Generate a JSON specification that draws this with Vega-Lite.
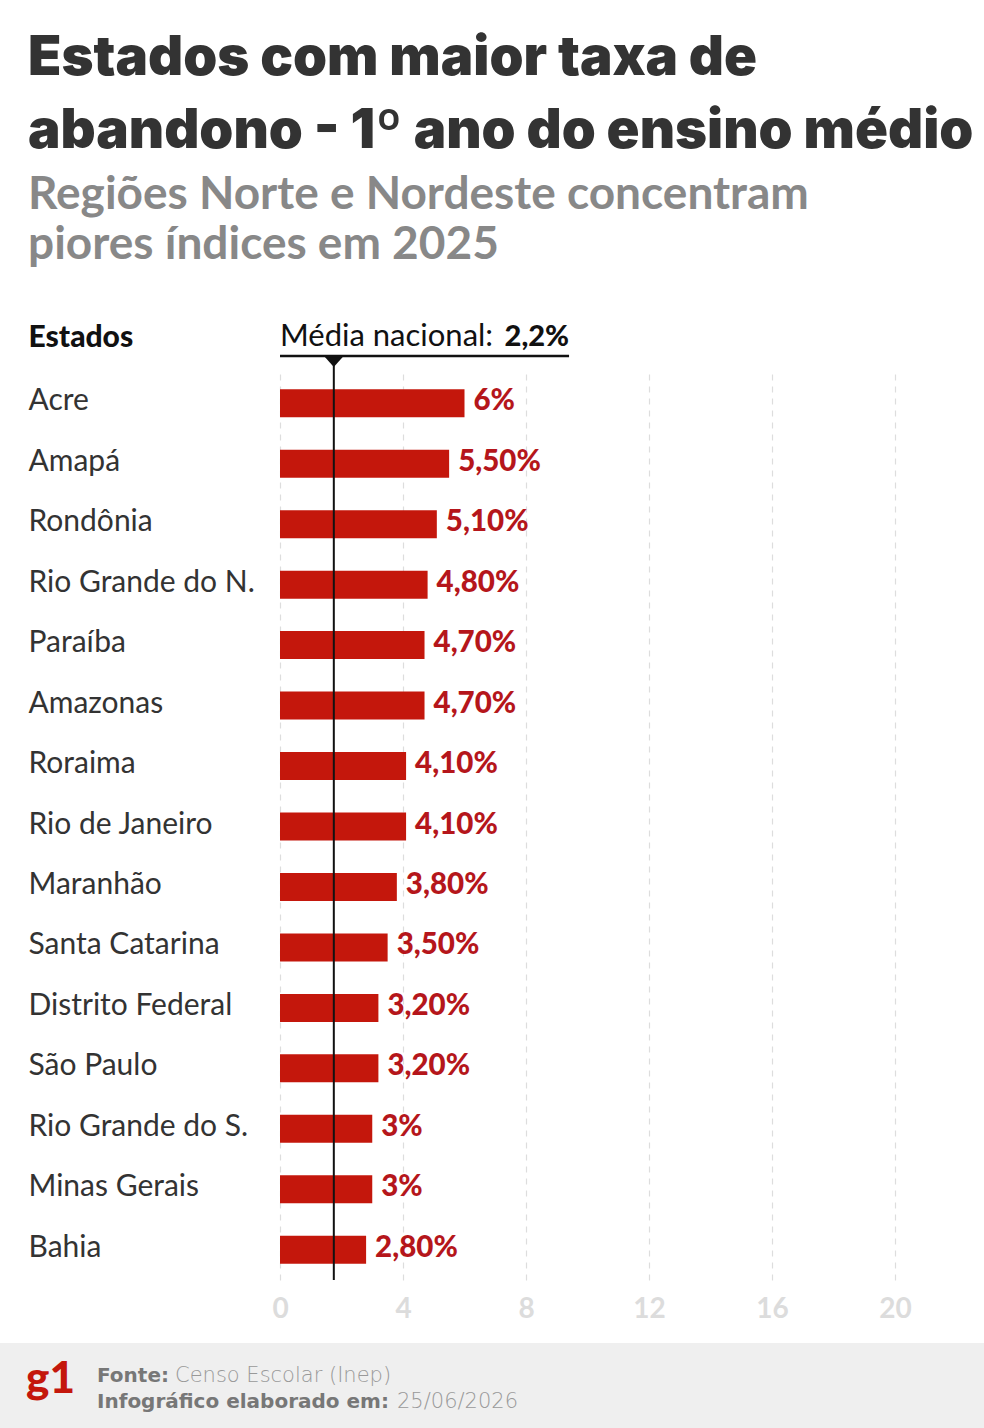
{
  "$schema": "https://vega.github.io/schema/vega-lite/v6.json",
  "width": 615,
  "height": 907,
  "autosize": "none",
  "padding": {"left": 280, "top": 373, "right": 89, "bottom": 148},
  "background": "white",
  "config": {"view": {"stroke": null}, "font": "Lato"},
  "title": {
    "text": ["Estados com maior taxa de", "abandono - 1º ano do ensino médio"],
    "subtitle": ["Regiões Norte e Nordeste concentram", "piores índices em 2025"],
    "anchor": "start",
    "frame": "group",
    "dx": -252,
    "fontSize": 54.5,
    "font": "Inter",
    "fontWeight": 900,
    "color": "#333333",
    "lineHeight": 73,
    "subtitleFont": "Lato",
    "subtitleFontSize": 46,
    "subtitleFontWeight": 700,
    "subtitleColor": "#888888",
    "subtitleLineHeight": 50,
    "subtitlePadding": 14,
    "offset": 52
  },
  "datasets": {
    "estados": [
      {"estado": "Acre", "taxa": 6, "rotulo": "6%"},
      {"estado": "Amapá", "taxa": 5.5, "rotulo": "5,50%"},
      {"estado": "Rondônia", "taxa": 5.1, "rotulo": "5,10%"},
      {"estado": "Rio Grande do N.", "taxa": 4.8, "rotulo": "4,80%"},
      {"estado": "Paraíba", "taxa": 4.7, "rotulo": "4,70%"},
      {"estado": "Amazonas", "taxa": 4.7, "rotulo": "4,70%"},
      {"estado": "Roraima", "taxa": 4.1, "rotulo": "4,10%"},
      {"estado": "Rio de Janeiro", "taxa": 4.1, "rotulo": "4,10%"},
      {"estado": "Maranhão", "taxa": 3.8, "rotulo": "3,80%"},
      {"estado": "Santa Catarina", "taxa": 3.5, "rotulo": "3,50%"},
      {"estado": "Distrito Federal", "taxa": 3.2, "rotulo": "3,20%"},
      {"estado": "São Paulo", "taxa": 3.2, "rotulo": "3,20%"},
      {"estado": "Rio Grande do S.", "taxa": 3, "rotulo": "3%"},
      {"estado": "Minas Gerais", "taxa": 3, "rotulo": "3%"},
      {"estado": "Bahia", "taxa": 2.8, "rotulo": "2,80%"}
    ],
    "media": [{"posicao": 1.75, "rotulo": "2,2%"}],
    "nota": [{"fonte": "Censo Escolar (Inep)", "data": "25/06/2026"}]
  },
  "layer": [
    {
      "data": {"name": "nota"},
      "mark": {"type": "rect", "fill": "#efefef", "clip": false},
      "encoding": {
        "x": {"value": -280},
        "x2": {"value": 704},
        "y": {"value": 970},
        "y2": {"value": 1055}
      }
    },
    {
      "data": {"name": "estados"},
      "mark": {"type": "bar", "color": "#c4170c", "size": 28},
      "encoding": {
        "x": {
          "field": "taxa",
          "type": "quantitative",
          "scale": {"domain": [0, 20], "nice": false, "zero": true},
          "axis": {
            "values": [0, 4, 8, 12, 16, 20],
            "title": null,
            "grid": true,
            "gridDash": [6, 6],
            "gridColor": "#dddddd",
            "gridWidth": 1.2,
            "domain": false,
            "ticks": false,
            "labelFlush": false,
            "labelColor": "#dcdcdc",
            "labelFontSize": 28,
            "labelFontWeight": 700,
            "labelFont": "Lato",
            "labelPadding": 15
          }
        },
        "y": {
          "field": "estado",
          "type": "nominal",
          "sort": null,
          "scale": {"paddingInner": 0, "paddingOuter": 0},
          "axis": {
            "title": "Estados",
            "titleAngle": 0,
            "titleX": -252,
            "titleY": -27,
            "titleAlign": "left",
            "titleBaseline": "alphabetic",
            "titleFontSize": 30,
            "titleFontWeight": 900,
            "titleFont": "Lato",
            "titleColor": "#111111",
            "labelAlign": "left",
            "labelPadding": 252,
            "labelLimit": 300,
            "ticks": false,
            "tickSize": 0,
            "domain": false,
            "labelFontSize": 30,
            "labelFont": "Lato",
            "labelColor": "#333333",
            "labelBaseline": "middle",
            "labelOffset": -2,
            "grid": false
          }
        }
      }
    },
    {
      "data": {"name": "estados"},
      "mark": {"type": "text", "align": "left", "baseline": "middle", "dx": 9, "dy": -2, "fontSize": 29.5, "fontWeight": 900, "font": "Lato", "color": "#b5161b"},
      "encoding": {
        "x": {"field": "taxa", "type": "quantitative"},
        "y": {"field": "estado", "type": "nominal", "sort": null},
        "text": {"field": "rotulo"}
      }
    },
    {
      "data": {"name": "media"},
      "mark": {"type": "rule", "color": "#111111", "strokeWidth": 2, "clip": false},
      "encoding": {
        "x": {"field": "posicao", "type": "quantitative"},
        "y": {"value": -12},
        "y2": {"value": 907}
      }
    },
    {
      "data": {"name": "media"},
      "mark": {"type": "point", "shape": "M-1,-0.55L1,-0.55L0,0.55Z", "filled": true, "color": "#111111", "size": 460, "opacity": 1, "clip": false},
      "encoding": {
        "x": {"field": "posicao", "type": "quantitative"},
        "y": {"value": -12}
      }
    },
    {
      "data": {"name": "media"},
      "mark": {"type": "rule", "color": "#111111", "strokeWidth": 2.5, "clip": false},
      "encoding": {
        "x": {"datum": 0},
        "x2": {"datum": 9.4},
        "y": {"value": -17}
      }
    },
    {
      "data": {"name": "media"},
      "mark": {"type": "text", "align": "left", "baseline": "alphabetic", "fontSize": 31, "font": "Lato", "color": "#111111"},
      "encoding": {
        "x": {"datum": 0},
        "y": {"value": -27},
        "text": {"value": "Média nacional:"}
      }
    },
    {
      "data": {"name": "media"},
      "mark": {"type": "text", "align": "right", "baseline": "alphabetic", "fontSize": 29, "fontWeight": 900, "font": "Lato", "color": "#111111"},
      "encoding": {
        "x": {"datum": 9.4},
        "y": {"value": -27},
        "text": {"field": "rotulo"}
      }
    },
    {
      "data": {"name": "nota"},
      "mark": {"type": "text", "align": "left", "baseline": "alphabetic", "fontSize": 44, "fontWeight": 900, "font": "Lato", "color": "#c4170c"},
      "encoding": {
        "x": {"value": -254},
        "y": {"value": 1020},
        "text": {"value": "g1"}
      }
    },
    {
      "data": {"name": "nota"},
      "mark": {"type": "text", "align": "left", "baseline": "alphabetic", "fontSize": 20, "fontWeight": 700, "font": "DejaVu Sans", "color": "#777777"},
      "encoding": {
        "x": {"value": -183},
        "y": {"value": 1009},
        "text": {"value": "Fonte:"}
      }
    },
    {
      "data": {"name": "nota"},
      "mark": {"type": "text", "align": "left", "baseline": "alphabetic", "fontSize": 21, "fontWeight": 200, "font": "DejaVu Sans", "color": "#999999"},
      "encoding": {
        "x": {"value": -105},
        "y": {"value": 1009},
        "text": {"field": "fonte"}
      }
    },
    {
      "data": {"name": "nota"},
      "mark": {"type": "text", "align": "left", "baseline": "alphabetic", "fontSize": 20, "fontWeight": 700, "font": "DejaVu Sans", "color": "#777777"},
      "encoding": {
        "x": {"value": -183},
        "y": {"value": 1035},
        "text": {"value": "Infográfico elaborado em:"}
      }
    },
    {
      "data": {"name": "nota"},
      "mark": {"type": "text", "align": "left", "baseline": "alphabetic", "fontSize": 21, "fontWeight": 200, "font": "DejaVu Sans", "color": "#999999"},
      "encoding": {
        "x": {"value": 117},
        "y": {"value": 1035},
        "text": {"field": "data"}
      }
    }
  ]
}
